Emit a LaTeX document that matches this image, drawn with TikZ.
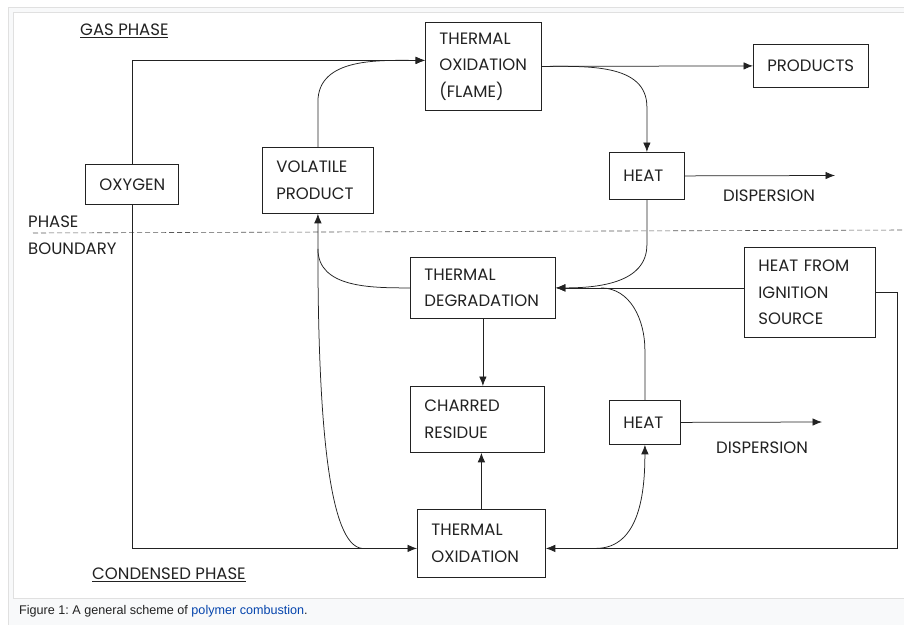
\documentclass[tikz,border=0pt]{standalone}
\usepackage{fontspec}
\setmainfont{Poppins}
\newfontfamily\capfont{Liberation Sans}
\usetikzlibrary{arrows.meta,positioning,calc}
\definecolor{ink}{HTML}{222222}
\definecolor{linkblue}{HTML}{0645AD}
\definecolor{framegray}{HTML}{E0E0E0}
\definecolor{capbg}{HTML}{F8F9FA}
\frenchspacing
\tikzset{
block/.style = {draw=ink, fill=white, rectangle, align=left, anchor=north west, inner xsep=14pt, inner ysep=0pt, line width=0.8pt, text=ink, font=\fontsize{16.5}{26.5}\selectfont},
lbl/.style = {anchor=west, inner sep=0pt, text=ink, font=\fontsize{16.5}{26.5}\selectfont},
conn/.style = {draw=ink, line width=0.75pt}
}

\begin{document}
\begin{tikzpicture}[x=1pt, y=-1pt, >={Latex[length=9.5pt,width=7.5pt]}]
    \useasboundingbox (0,0) rectangle (904,624);
    % frame and caption strip
    \draw[framegray, fill=capbg] (8.5,7.5) rectangle (912,630);
    \draw[framegray, fill=white] (13.5,12.5) rectangle (912,598);
    \node[anchor=west, inner sep=0pt, text=ink, font=\capfont\fontsize{12.6}{14}\selectfont] (cap) at (19,611) {Figure 1: A general scheme of \textcolor{linkblue}{polymer combustion}.};

    % phase labels
    \node[lbl] (gas) at (80,31) {\underline{GAS PHASE}};
    \node[lbl] (cond) at (92,575) {\underline{CONDENSED PHASE}};
    \node[lbl, align=left] (bound) at (28,235) {PHASE\\BOUNDARY};
    \draw[ink!75, line width=0.6pt, dash pattern=on 5pt off 3pt] (33,233) -- (904,230);

    % boxes
    \node[block, text width=88pt, minimum height=88pt] (tof) at (425,22) {THERMAL\\OXIDATION\\(FLAME)};
    \node[block, text width=87pt, minimum height=43pt] (prod) at (753,44) {PRODUCTS};
    \node[block, text width=47pt, minimum height=47pt] (heatg) at (609,152) {HEAT};
    \node[block, text width=65pt, minimum height=40pt] (oxy) at (85,164) {OXYGEN};
    \node[block, text width=83pt, minimum height=66pt] (vol) at (262,147) {VOLATILE\\PRODUCT};
    \node[block, text width=117pt, minimum height=61pt] (tdeg) at (410,257) {THERMAL\\DEGRADATION};
    \node[block, text width=103pt, minimum height=90pt] (ign) at (744,247) {HEAT FROM\\IGNITION\\SOURCE};
    \node[block, text width=106pt, minimum height=66pt] (char) at (410,386) {CHARRED\\RESIDUE};
    \node[block, text width=43pt, minimum height=44pt] (heatc) at (609,400) {HEAT};
    \node[block, text width=100pt, minimum height=68pt] (tox) at (417,509) {THERMAL\\OXIDATION};

    % free ends and dispersion
    \coordinate (dispg) at (835,175.5);
    \coordinate (dispc) at (822,422);
    \node[lbl] (dispgt) at (723,196) {DISPERSION};
    \node[lbl] (dispct) at (716,448) {DISPERSION};

    % gas phase links
    \draw[conn,->] (oxy.north) |- ([yshift=6pt]tof.west);
    \draw[conn,->] (vol.north) -- ([yshift=45pt]vol.north) to[out=90,in=180] ([yshift=6pt]tof.west);
    \draw[conn,->] (tof.east) -- (prod.west);
    \draw[conn,->] (tof.east) to[out=0,in=90] ([yshift=45pt]heatg.north) -- (heatg.north);
    \draw[conn,->] (heatg.east) -- (dispg);
    \draw[conn,->] (heatg.south) -- ([yshift=-45pt]heatg.south) to[out=-90,in=0] (tdeg.east);

    % condensed phase links
    \draw[conn,->] (ign.west |- tdeg.east) -- (tdeg.east);
    \draw[conn] (heatc.north) -- ([yshift=50pt]heatc.north) to[out=90,in=0] ([xshift=45pt]tdeg.east);
    \draw[conn,->] (tdeg.west) to[out=180,in=-90] ([yshift=-35pt]vol.south) -- (vol.south);
    \draw[conn] ([xshift=-55pt,yshift=-5pt]tox.west) .. controls (330,545) and (318,430) .. ([yshift=-35pt]vol.south);
    \draw[conn,->] (tdeg.south) -- (tdeg.south |- char.north);
    \draw[conn,->] (tox.north) -- (tox.north |- char.south);
    \draw[conn,->] (oxy.south) |- ([yshift=-5pt]tox.west);
    \draw[conn,->] (ign.east) -- ++(22,0) |- ([yshift=-5pt]tox.east);
    \draw[conn,->] ([xshift=50pt,yshift=-5pt]tox.east) to[out=0,in=-90] (heatc.south);
    \draw[conn,->] (heatc.east) -- (dispc);
\end{tikzpicture}
\end{document}
